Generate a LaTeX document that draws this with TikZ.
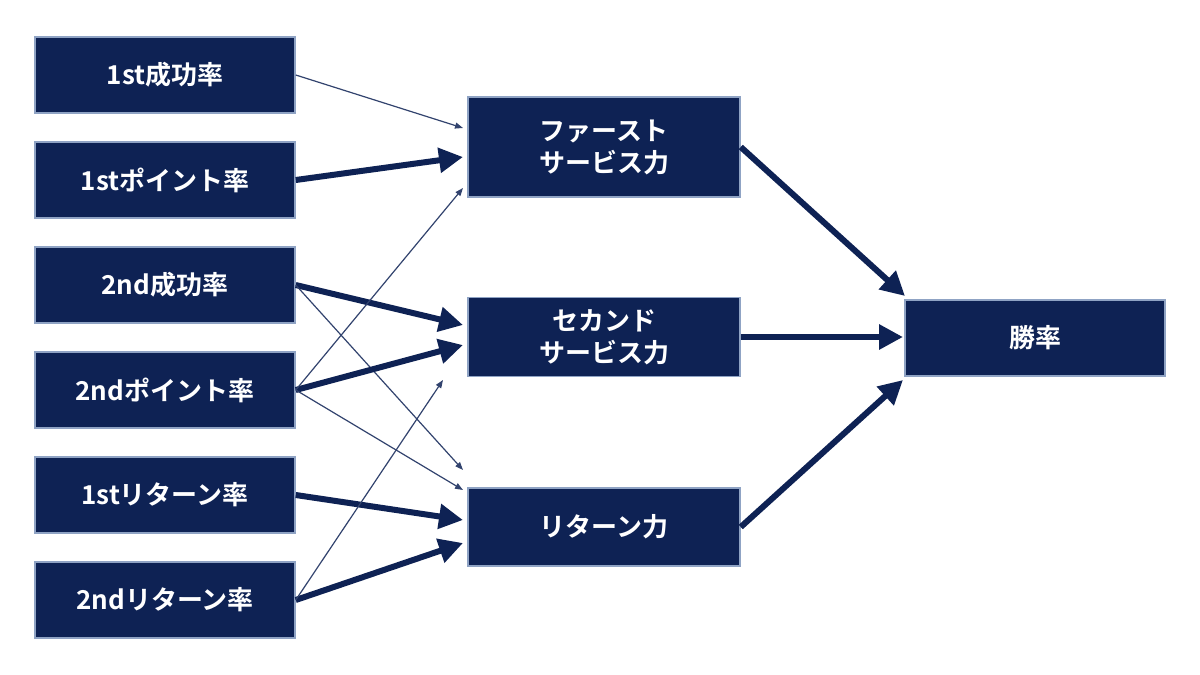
\documentclass[tikz,border=0pt]{standalone}
\usepackage{fontspec}
\setmainfont{Noto Sans CJK JP}[BoldFont={Noto Sans CJK JP Bold}]
\usetikzlibrary{arrows.meta}
\definecolor{navy}{HTML}{0E2254}
\definecolor{edge}{HTML}{8FA3C4}
\begin{document}
\begin{tikzpicture}[x=1pt,y=-1pt,
 box/.style={draw=edge,line width=1.5pt,fill=navy,text=white,font=\bfseries\fontsize{26}{32}\selectfont,align=center,inner sep=0pt},
 thin/.style={navy!85,line width=1.2pt,-{Triangle[length=8pt,width=6pt]}},
 thick/.style={navy,line width=6pt,-{Triangle[length=24pt,width=24pt]}}]
\useasboundingbox (0,0) rectangle (1200,675);
\fill[white] (0,0) rectangle (1200,675);
\foreach \n/\y/\t in {a/75/1st成功率,b/180/1stポイント率,c/285/2nd成功率,d/390/2ndポイント率,e/495/1stリターン率,f/600/2ndリターン率}
  \node[box,minimum width=260pt,minimum height=76pt] (\n) at (165,\y) {\t};
\node[box,minimum width=272pt,minimum height=100pt] (p) at (604,147) {ファースト\\サービス力};
\node[box,minimum width=272pt,minimum height=79pt] (q) at (604,337) {セカンド\\サービス力};
\node[box,minimum width=272pt,minimum height=78pt] (r) at (604,527) {リターン力};
\node[box,minimum width=260pt,minimum height=76pt] (w) at (1035,338) {勝率};
\coordinate (p1) at (463,128); \coordinate (p2) at (463,157); \coordinate (p3) at (463,188);
\coordinate (q1) at (463,325); \coordinate (q2) at (463,345); \coordinate (q3) at (443,380);
\coordinate (r1) at (463,470); \coordinate (r2) at (463,490); \coordinate (r3) at (463,520); \coordinate (r4) at (463,543);
\draw[thin] (a.east) -- (p1);
\draw[thick] (b.east) -- (p2);
\draw[thick] (c.east) -- (q1);
\draw[thin] (c.east) -- (r1);
\draw[thick] (d.east) -- (q2);
\draw[thin] (d.east) -- (p3);
\draw[thin] (d.east) -- (r2);
\draw[thick] (e.east) -- (r3);
\draw[thick] (f.east) -- (r4);
\draw[thin] (f.east) -- (q3);
\coordinate (w1) at (905,296); \coordinate (w2) at (903,337); \coordinate (w3) at (903,380);
\draw[thick] ([yshift=-0pt]p.east) -- (w1);
\draw[thick] (q.east) -- (w2);
\draw[thick] (r.east) -- (w3);
\end{tikzpicture}
\end{document}
